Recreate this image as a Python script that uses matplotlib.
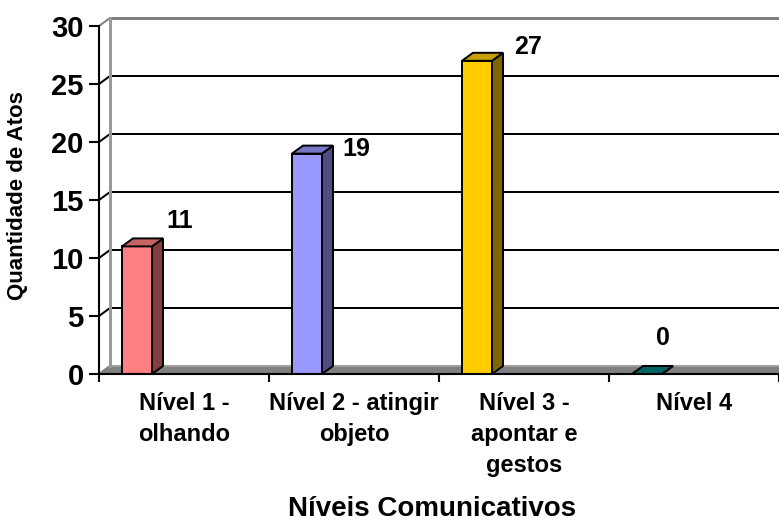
import matplotlib
matplotlib.use("Agg")
import matplotlib.pyplot as plt
from matplotlib.patches import Polygon
from matplotlib.colors import to_rgb

plt.rcParams['font.family'] = ['Liberation Sans', 'DejaVu Sans']
plt.rcParams['font.weight'] = 'bold'

# data
categories = ["Nível 1 -\nolhando", "Nível 2 - atingir\nobjeto",
              "Nível 3 -\napontar e\ngestos", "Nível 4"]
values = [11, 19, 27, 0]
bar_colors = ["#FF8080", "#9999FF", "#FFCC00", "#008080"]
y_ticks = [0, 5, 10, 15, 20, 25, 30]

# label placement relative to the bar's front-left top corner, in pixels
label_offsets = [(58, 25), (64, 5), (66, 14), (31, 36)]

fig = plt.figure(figsize=(7.79, 5.22), dpi=100)
# plot box in pixels: x 99..779, y 26..374 (from top)
ax = fig.add_axes([99 / 779, 148 / 522, 680 / 779, 348 / 522])
ax.set_xlim(0, 4)
ax.set_ylim(0, 30)

# 3d depth offset (11 px right, 8 px up) in data units
px_x = 4 / 680
px_y = 30 / 348
dx = 11 * px_x
dy = 8 * px_y

bar_start = 23 * px_x
bar_w = 30 * px_x


def shade(c, f):
    r, g, b = to_rgb(c)
    return (r * f, g * f, b * f)


# floor
floor = Polygon([(0, 0), (dx, dy), (4.3, dy), (4.3, 0)], closed=True,
                facecolor="#808080", edgecolor="none", zorder=1, clip_on=False)
ax.add_patch(floor)
ax.plot([dx, 4.3], [dy, dy], color="#A0A0A0", lw=1.5, zorder=1.5, clip_on=False)

# back wall grid lines
for k in y_ticks[1:]:
    col = "#808080" if k == 30 else "black"
    lw = 3 if k == 30 else 2
    ax.plot([dx, 4.3], [k + dy, k + dy], color=col, lw=lw * 0.72,
            zorder=2, clip_on=False, solid_capstyle="butt")
    ax.plot([0, dx], [k, k + dy], color=col, lw=2 * 0.72, zorder=2, clip_on=False)
ax.plot([0, dx], [0, dy], color="#808080", lw=1.5, zorder=2, clip_on=False)
# back wall left edge
ax.plot([dx, dx], [dy, 30 + dy], color="#999999", lw=3 * 0.72, zorder=2, clip_on=False)

# bars
for i, (v, c) in enumerate(zip(values, bar_colors)):
    x0 = i + bar_start
    x1 = x0 + bar_w
    front = Polygon([(x0, 0), (x0, v), (x1, v), (x1, 0)], closed=True,
                    facecolor=c, edgecolor="black", lw=1.4, zorder=5)
    top = Polygon([(x0, v), (x0 + dx, v + dy), (x1 + dx, v + dy), (x1, v)],
                  closed=True, facecolor=shade(c, 0.78), edgecolor="black",
                  lw=1.4, zorder=5)
    side = Polygon([(x1, 0), (x1 + dx, dy), (x1 + dx, v + dy), (x1, v)],
                   closed=True, facecolor=shade(c, 0.5), edgecolor="black",
                   lw=1.4, zorder=5)
    ax.add_patch(front)
    ax.add_patch(side)
    ax.add_patch(top)
    ox, oy = label_offsets[i]
    ax.annotate(str(v), xy=(x0, v), xytext=(ox, oy), textcoords="offset pixels",
                ha="center", va="center", fontsize=18, fontweight="bold")

# axes styling
for s in ["top", "right"]:
    ax.spines[s].set_visible(False)
ax.spines["left"].set_linewidth(1.5)
ax.spines["bottom"].set_linewidth(1.5)
ax.spines["left"].set_zorder(6)
ax.spines["bottom"].set_zorder(6)
ax.spines["bottom"].set_bounds(0, 4.3)

ax.set_yticks(y_ticks)
ax.set_yticklabels([str(t) for t in y_ticks], fontsize=21, fontweight="bold")
ax.tick_params(axis="y", direction="out", length=7, width=1.5, pad=4)

ax.set_xticks([0, 1, 2, 3, 4])
ax.set_xticklabels([])
ax.tick_params(axis="x", which="major", direction="out", length=6, width=1.5)
ax.set_xticks([0.5, 1.5, 2.5, 3.5], minor=True)
ax.set_xticklabels(categories, minor=True, fontsize=17, fontweight="bold",
                   linespacing=1.45)
ax.tick_params(axis="x", which="minor", length=0, pad=13)

ax.patch.set_visible(False)

fig.text(18 / 779, 1 - 196 / 522, "Quantidade de Atos", rotation=90,
         ha="center", va="center", fontsize=16, fontweight="bold")
fig.text(432 / 779, 1 - 509 / 522, "Níveis Comunicativos",
         ha="center", va="center", fontsize=20, fontweight="bold")

fig.savefig("out.png", dpi=100, facecolor="white")
